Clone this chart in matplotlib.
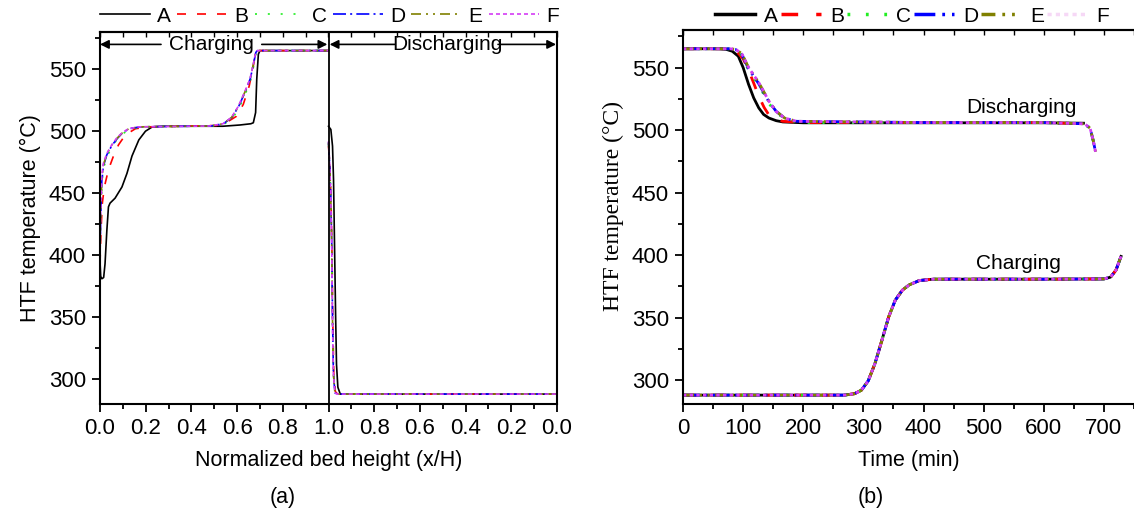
import matplotlib
matplotlib.use("Agg")
import matplotlib.pyplot as plt
from matplotlib.ticker import MultipleLocator, FixedLocator

plt.rcParams['font.family'] = ['Liberation Sans', 'DejaVu Sans']

# ---------------- data: panel (a) charging, x/H vs HTF temperature ----------------
series = ['A', 'B', 'C', 'D', 'E', 'F']
colors = ['#000000', '#FF0000', '#22EE22', '#0000FF', '#808000', '#D43CF5']

A_chg_x = [0.0, 0.003, 0.008, 0.016, 0.022, 0.030, 0.037, 0.044, 0.066, 0.096, 0.118, 0.140, 0.170, 0.199, 0.229, 0.273, 0.538, 0.612, 0.660, 0.671, 0.681, 0.686, 0.693, 0.700, 1.0]
A_chg_T = [395, 383, 381, 382, 393, 420, 439, 442, 446, 455, 466, 480, 493, 500, 503.5, 504, 504, 505, 506, 506.8, 515, 542, 562, 565, 565]

B_chg_x = [0.0, 0.0044, 0.0103, 0.019, 0.037, 0.059, 0.081, 0.111, 0.155, 0.214, 0.509, 0.553, 0.597, 0.627, 0.653, 0.671, 0.681, 0.693, 1.0]
B_chg_T = [393, 420, 442, 455, 469, 480, 489, 497, 502, 503.5, 504.6, 507, 512, 521.6, 536.5, 552.7, 563.5, 565, 565]

C_chg_x = [0.0, 0.003, 0.008, 0.015, 0.030, 0.050, 0.075, 0.100, 0.130, 0.180, 0.490, 0.545, 0.580, 0.610, 0.638, 0.660, 0.674, 0.683, 0.690, 1.0]
C_chg_T = [400, 428, 458, 470, 479, 487, 493.5, 498, 501.5, 503.5, 504.2, 506, 510.5, 519, 531, 542, 554, 563.5, 565, 565]

D_chg_x = [0.0, 0.003, 0.008, 0.015, 0.030, 0.052, 0.075, 0.097, 0.127, 0.175, 0.485, 0.540, 0.577, 0.607, 0.636, 0.658, 0.672, 0.682, 0.689, 1.0]
D_chg_T = [398, 430, 460, 472, 481, 488.5, 494, 498.4, 502, 503.5, 504.2, 506, 511, 520, 532, 542.5, 554.5, 563.5, 565, 565]

E_chg_x = [0.0, 0.003, 0.008, 0.015, 0.030, 0.052, 0.075, 0.097, 0.126, 0.172, 0.482, 0.539, 0.576, 0.606, 0.635, 0.657, 0.671, 0.681, 0.689, 1.0]
E_chg_T = [402, 432, 461, 473, 481.5, 489, 494.3, 498.5, 502, 503.5, 504.2, 506, 511, 520, 532, 542, 554, 563.5, 565, 565]

F_chg_x = [0.0, 0.003, 0.0074, 0.0147, 0.0295, 0.0516, 0.0737, 0.0959, 0.125, 0.170, 0.479, 0.538, 0.575, 0.605, 0.634, 0.656, 0.671, 0.681, 0.689, 1.0]
F_chg_T = [404, 434, 463.5, 474, 482, 489, 494.6, 498.6, 502, 503.5, 504.2, 506, 511, 520, 532, 542, 554, 563.5, 565, 565]

# ---------------- data: panel (a) discharging, x/H (1 -> 0) vs temperature ----------------
A_dis_xh = [1.0, 0.9897, 0.9824, 0.978, 0.9735, 0.969, 0.965, 0.959, 0.9485, 0.0]
A_dis_T = [504, 501.4, 488, 461, 407, 353, 312, 293.5, 288, 288]

B_dis_xh = [1.0, 0.9935, 0.9885, 0.9845, 0.9815, 0.977, 0.970, 0.960, 0.0]
B_dis_T = [488, 470, 440, 400, 350, 305, 290, 288, 288]

C_dis_xh = [1.0, 0.9945, 0.9897, 0.9853, 0.9824, 0.978, 0.971, 0.960, 0.0]
C_dis_T = [490, 472, 445, 405, 352, 305, 289, 288, 288]

D_dis_xh = [1.0, 0.9950, 0.9900, 0.9856, 0.9827, 0.9785, 0.972, 0.961, 0.0]
D_dis_T = [491, 474, 447, 407, 353, 305, 289, 288, 288]

E_dis_xh = [1.0, 0.9950, 0.9902, 0.9858, 0.9829, 0.9787, 0.972, 0.961, 0.0]
E_dis_T = [491, 474, 448, 408, 354, 305, 289, 288, 288]

F_dis_xh = [1.0, 0.9952, 0.9905, 0.9860, 0.9830, 0.9790, 0.972, 0.962, 0.0]
F_dis_T = [492, 476, 450, 410, 355, 306, 289, 288, 288]

# ---------------- data: panel (b) outlet temperature vs time ----------------
A_dtime = [0, 60, 72, 82, 92, 100, 109, 117.6, 126, 134, 143, 155, 166, 200, 400, 600, 666]
A_dtemp = [565, 565, 564.5, 563, 559, 550, 536.6, 525.7, 517.7, 512.5, 509.6, 507.5, 506.5, 505.8, 505.8, 505.8, 505.5]

B_dtime = [0, 70, 80, 90, 100, 109, 118, 126, 135, 143, 155, 166, 200, 400, 600, 666]
B_dtemp = [565, 565, 564.5, 562.5, 557, 548, 537, 527, 518, 512, 508.5, 507, 506, 506, 506, 505]

C_dtime = [0, 75, 85, 95, 109, 126, 143, 160, 180, 200, 400, 600, 668, 676, 682, 686]
C_dtemp = [565, 565, 564.5, 562, 548, 536, 521, 512, 507.5, 506, 506, 506, 505, 501.5, 492, 483]

D_dtime = [0, 77, 87, 97, 109, 126, 143, 155, 169, 189, 400, 600, 668, 677, 682, 686]
D_dtemp = [565, 565, 564.5, 561.5, 549, 537, 522.5, 515, 509.5, 507, 506, 506, 505, 501.5, 492, 482.6]

E_dtime = [0, 78, 88, 98, 109, 126, 143, 155, 169, 189, 400, 600, 668, 677, 682, 686]
E_dtemp = [565, 565, 564.5, 561, 550, 538, 523, 515, 509.6, 507, 506, 506, 505, 501.5, 492, 482.6]

F_dtime = [0, 78, 88, 97.7, 109, 126, 143, 154.5, 169, 188.6, 400, 600, 668, 677, 682, 686]
F_dtemp = [565, 565, 564.5, 561, 550, 538, 523, 515, 509.6, 507, 506, 506, 505, 501.5, 492, 482.6]

chg_time = [0, 100, 200, 268, 285, 296.6, 308, 319, 330.7, 342, 353, 364.8, 376, 393, 416, 500, 600, 700, 711, 720, 728.4]
chg_temp = [288.1, 288.1, 288.1, 288.1, 289.2, 292, 299.5, 313, 331.8, 350.6, 364, 372, 376.2, 379.7, 380.8, 380.8, 380.8, 381, 382.4, 388, 399]

xa_ticks = [0.0, 0.2, 0.4, 0.6, 0.8, 1.0, 1.2, 1.4, 1.6, 1.8, 2.0]
xa_labels = ['0.0', '0.2', '0.4', '0.6', '0.8', '1.0', '0.8', '0.6', '0.4', '0.2', '0.0']

chg_x = [A_chg_x, B_chg_x, C_chg_x, D_chg_x, E_chg_x, F_chg_x]
chg_T = [A_chg_T, B_chg_T, C_chg_T, D_chg_T, E_chg_T, F_chg_T]
dis_xh = [A_dis_xh, B_dis_xh, C_dis_xh, D_dis_xh, E_dis_xh, F_dis_xh]
dis_T = [A_dis_T, B_dis_T, C_dis_T, D_dis_T, E_dis_T, F_dis_T]
dtime = [A_dtime, B_dtime, C_dtime, D_dtime, E_dtime, F_dtime]
dtemp = [A_dtemp, B_dtemp, C_dtemp, D_dtemp, E_dtemp, F_dtemp]

styles_a = ['-', (0, (5.4, 6.6)), (0, (1.2, 6.5)), (0, (7.8, 2.5, 1.2, 2.5)),
            (0, (6, 3, 1.2, 3, 1.2, 3)), (0, (2.4, 1.8))]
styles_b = ['-', (0, (4.8, 5.2)), (0, (0.8, 4.5)), (0, (6, 2, 0.8, 2)),
            (0, (4, 2, 0.8, 2, 0.8, 2)), (0, (1.2, 1.2))]

FT = 16      # tick labels
FL = 15.5    # axis labels
FG = 15      # legend / annotations
W, H = 1134, 522
fig = plt.figure(figsize=(W / 100, H / 100), dpi=100)


def style_axes(ax):
    for s in ax.spines.values():
        s.set_linewidth(1.5)
    ax.tick_params(which='both', direction='out', width=1.3, labelsize=FT, pad=4)
    ax.tick_params(which='major', length=6)
    ax.tick_params(which='minor', length=3.5)
    top = ax.secondary_xaxis('top')
    top.set_xticks(ax.get_xticks(minor=True), minor=True)
    top.set_xticks(ax.get_xticks())
    top.tick_params(which='both', direction='in', length=3.5, width=1.0,
                    labeltop=False)
    top.spines['top'].set_linewidth(1.5)
    return top


# ---------------- panel (a) ----------------
ax1 = fig.add_axes([100 / W, 1 - 404 / H, 457 / W, 372 / H])
for i, s in enumerate(series):
    ax1.plot(chg_x[i], chg_T[i], color=colors[i], ls=styles_a[i], lw=1.2, label=s)
    ax1.plot([2 - v for v in dis_xh[i]], dis_T[i], color=colors[i], ls=styles_a[i], lw=1.2)
ax1.axvline(1.0, color='k', lw=1.3)
ax1.set_xlim(0, 2)
ax1.set_ylim(280, 580)
ax1.xaxis.set_major_locator(FixedLocator(xa_ticks))
ax1.set_xticklabels(xa_labels)
ax1.xaxis.set_minor_locator(MultipleLocator(0.1))
ax1.yaxis.set_major_locator(MultipleLocator(50))
ax1.yaxis.set_minor_locator(MultipleLocator(25))
style_axes(ax1)
ax1.set_xlabel('Normalized bed height (x/H)', fontsize=FL, labelpad=8)
ax1.set_ylabel('HTF temperature (°C)', fontsize=FL, labelpad=6)

ay = 570
arr = dict(arrowstyle='-|>', color='k', lw=1.2, mutation_scale=13, shrinkA=0, shrinkB=0)
ax1.annotate('', xy=(0.0, ay), xytext=(0.267, ay), arrowprops=arr)
ax1.annotate('', xy=(0.995, ay), xytext=(0.708, ay), arrowprops=arr)
ax1.text(0.488, ay, 'Charging', ha='center', va='center', fontsize=FG)
ax1.annotate('', xy=(1.005, ay), xytext=(1.29, ay), arrowprops=arr)
ax1.annotate('', xy=(1.996, ay), xytext=(1.742, ay), arrowprops=arr)
ax1.text(1.519, ay, 'Discharging', ha='center', va='center', fontsize=FG)

leg1 = ax1.legend(loc='center left', bbox_to_anchor=(100 / W, 1 - 16 / H),
                  bbox_transform=fig.transFigure, ncol=6, frameon=False,
                  fontsize=FG, handlelength=2.4, handletextpad=0.34,
                  columnspacing=0.3, borderpad=0, borderaxespad=0)

# ---------------- panel (b) ----------------
ax2 = fig.add_axes([683 / W, 1 - 404 / H, 451 / W, 374 / H])
for i, s in enumerate(series):
    ax2.plot(dtime[i], dtemp[i], color=colors[i], ls=styles_b[i], lw=2.0, label=s)
for i, s in enumerate(series):
    ax2.plot(chg_time, chg_temp, color=colors[i], ls=styles_b[i], lw=2.0)
ax2.set_xlim(0, 750)
ax2.set_ylim(281, 580)
ax2.xaxis.set_major_locator(MultipleLocator(100))
ax2.xaxis.set_minor_locator(MultipleLocator(50))
ax2.yaxis.set_major_locator(MultipleLocator(50))
ax2.yaxis.set_minor_locator(MultipleLocator(25))
style_axes(ax2)
ax2.spines['right'].set_visible(False)
ax2.set_xlabel('Time (min)', fontsize=FL, labelpad=8)
ax2.set_ylabel('HTF temperature (°C)', fontsize=17,
               family=['Liberation Serif', 'DejaVu Serif'])
ax2.yaxis.set_label_coords(-0.13, 0.53)
ax2.text(562, 518, 'Discharging', ha='center', va='center', fontsize=FG)
ax2.text(557, 393, 'Charging', ha='center', va='center', fontsize=FG)

leg2 = ax2.legend(loc='center left', bbox_to_anchor=(715 / W, 1 - 16 / H),
                  bbox_transform=fig.transFigure, ncol=6, frameon=False,
                  fontsize=FG, handlelength=1.9, handletextpad=0.45,
                  columnspacing=0.15, borderpad=0, borderaxespad=0)
for ln in leg2.get_lines():
    ln.set_linewidth(2.5)
leg2.get_lines()[5].set_color('#F6D8F6')

fig.text(283 / W, 1 - 497 / H, '(a)', ha='center', va='center', fontsize=FL)
fig.text(871 / W, 1 - 497 / H, '(b)', ha='center', va='center', fontsize=FL)

fig.savefig('out.png', dpi=100)
